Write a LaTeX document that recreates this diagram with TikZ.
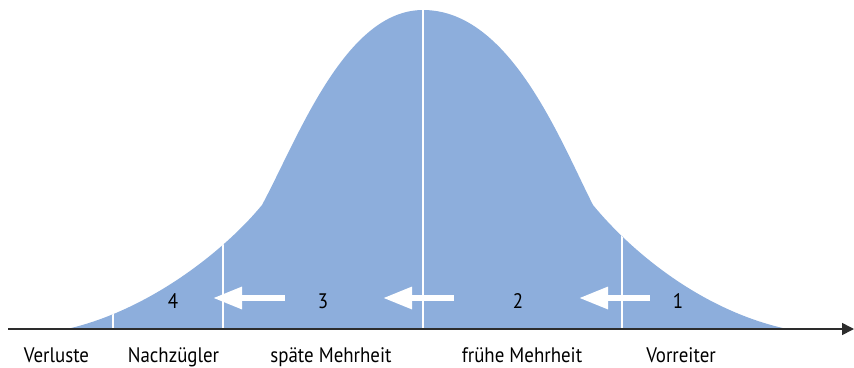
\documentclass[tikz,border=0pt]{standalone}
\usepackage{fontspec}
\setmainfont[FakeStretch=0.9]{PT Sans}
\usetikzlibrary{arrows.meta}
\definecolor{curveblue}{RGB}{141,174,220}
\definecolor{axisgray}{RGB}{45,45,45}
\begin{document}
\begin{tikzpicture}[x=1pt, y=-1pt,
    phase/.style={anchor=base, font=\fontsize{21}{25}\selectfont},
    shift arrow/.style={white, line width=6pt, -{Triangle[length=29pt,width=21pt]}},
    divider/.style={white, line width=1.5pt}]
    \useasboundingbox (0,0) rectangle (854,367);

    % Bell curve
    \def\bell{(67,329) .. controls (150,310) and (225,250) .. (262,205)
        .. controls (298,138) and (345,10) .. (423,10)
        .. controls (510,10) and (560,140) .. (593,205)
        .. controls (630,250) and (700,310) .. (787,329) -- cycle}
    \fill[curveblue] \bell;

    % Dividers inside the curve
    \begin{scope}
        \clip \bell;
        \foreach \x in {113,223,423,622}
            \draw[divider] (\x,0) -- (\x,329);
    \end{scope}

    % Axis
    \coordinate (axstart) at (8,329);
    \coordinate (axend) at (854,329);
    \draw[axisgray, line width=1.6pt, -{Triangle[length=12pt,width=12pt]}] (axstart) -- (axend);

    % Numbers
    \node[phase] (n4) at (173,308) {4};
    \node[phase] (n3) at (323,308) {3};
    \node[phase] (n2) at (518,308) {2};
    \node[phase] (n1) at (678,308) {1};

    % Shift arrows
    \coordinate (a1s) at (650,298); \coordinate (a1e) at (579,298);
    \coordinate (a2s) at (454,298); \coordinate (a2e) at (383,298);
    \coordinate (a3s) at (285,298); \coordinate (a3e) at (213,298);
    \draw[shift arrow] (a1s) -- (a1e);
    \draw[shift arrow] (a2s) -- (a2e);
    \draw[shift arrow] (a3s) -- (a3e);

    % Labels
    \node[phase] (verluste) at (56.5,362) {Verluste};
    \node[phase] (nachzuegler) at (173.5,362) {Nachzügler};
    \node[phase] (spaet) at (331,362) {späte Mehrheit};
    \node[phase] (frueh) at (522,362) {frühe Mehrheit};
    \node[phase] (vorreiter) at (681,362) {Vorreiter};
\end{tikzpicture}
\end{document}
